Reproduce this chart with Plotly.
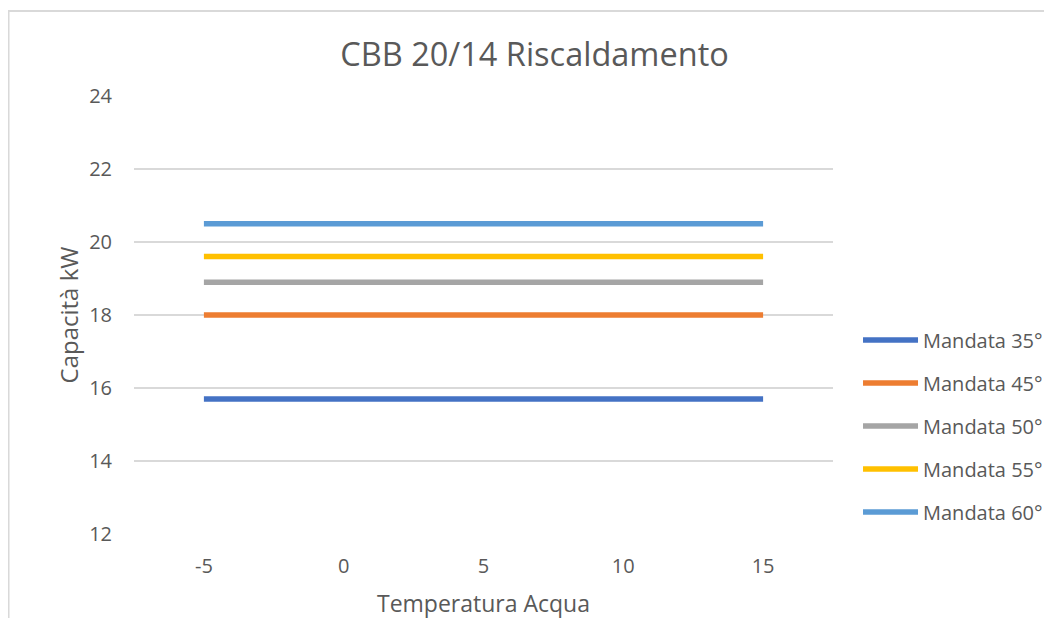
import plotly.graph_objects as go

x_temps = [-5, 0, 5, 10, 15]
series_names = ["Mandata 35°", "Mandata 45°", "Mandata 50°", "Mandata 55°", "Mandata 60°"]
series_values = [
    [15.7, 15.7, 15.7, 15.7, 15.7],
    [18.0, 18.0, 18.0, 18.0, 18.0],
    [18.9, 18.9, 18.9, 18.9, 18.9],
    [19.6, 19.6, 19.6, 19.6, 19.6],
    [20.5, 20.5, 20.5, 20.5, 20.5],
]
colors = ["#4472C4", "#ED7D31", "#A5A5A5", "#FFC000", "#5B9BD5"]
x_ticks = [-5, 0, 5, 10, 15]
x_tick_labels = ["-5", "0", "5", "10", "15"]
y_ticks = [12, 14, 16, 18, 20, 22, 24]

FONT = "Open Sans"
TXT = "#595959"

fig = go.Figure()
for name, vals, col in zip(series_names, series_values, colors):
    fig.add_trace(go.Scatter(x=x_temps, y=vals, mode="lines", name=name,
                             legendgroup=name,
                             line=dict(color=col, width=5.5)))

fig.update_layout(
    width=1052, height=618,
    paper_bgcolor="white", plot_bgcolor="white",
    margin=dict(l=126, r=227, t=88, b=92, autoexpand=False),
    font=dict(family=FONT, color=TXT),
    title=dict(text="CBB 20/14 Riscaldamento", x=0.5005, xref="container", xanchor="center",
               y=0.924, yref="container", yanchor="middle",
               font=dict(family=FONT, size=32.5, color=TXT)),
    xaxis=dict(range=[-7.5, 17.5], tickvals=x_ticks, ticktext=x_tick_labels,
               showgrid=False, zeroline=False,
               showline=False, ticks="", ticklabelstandoff=18,
               tickfont=dict(family=FONT, size=20, color=TXT),
               title=dict(text="Temperatura Acqua", standoff=17,
                          font=dict(family=FONT, size=23, color=TXT))),
    yaxis=dict(range=[12, 24], tickvals=y_ticks, showgrid=True, gridcolor="#D9D9D9",
               gridwidth=1.5, zeroline=False, showline=False, ticks="",
               ticklabelstandoff=21,
               tickfont=dict(family=FONT, size=20, color=TXT),
               title=dict(text="Capacità kW", standoff=3,
                          font=dict(family=FONT, size=24, color=TXT))),
    legend=dict(xref="container", yref="container", x=0.808, xanchor="left",
                y=0.3236, yanchor="middle",
                traceorder="grouped", tracegroupgap=14, itemwidth=55,
                font=dict(family=FONT, size=20, color=TXT),
                bgcolor="rgba(0,0,0,0)"),
    showlegend=True,
    shapes=[dict(type="rect", xref="paper", yref="paper", x0=-0.1795, x1=1.4, y0=-0.4, y1=1.194,
                 line=dict(color="#D9D9D9", width=2), fillcolor="rgba(0,0,0,0)", layer="below")],
)

fig.write_html("out.html")
